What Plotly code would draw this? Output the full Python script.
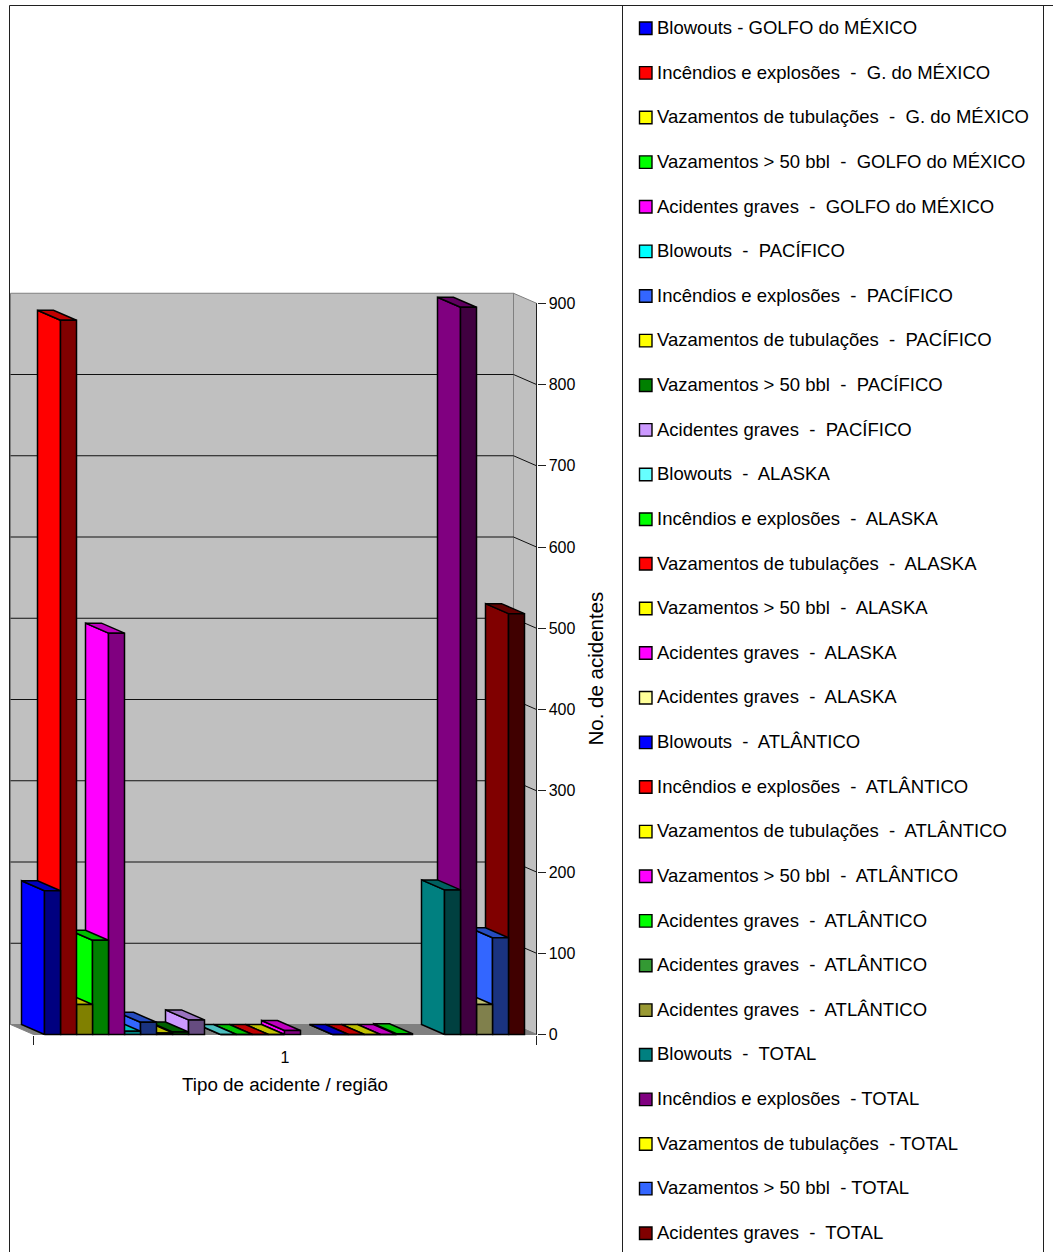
import plotly.graph_objects as go

# Series, in plotting order along the category axis
series_names = [
    "Blowouts - GOLFO do MÉXICO",
    "Incêndios e explosões  -  G. do MÉXICO",
    "Vazamentos de tubulações  -  G. do MÉXICO",
    "Vazamentos > 50 bbl  -  GOLFO do MÉXICO",
    "Acidentes graves  -  GOLFO do MÉXICO",
    "Blowouts  -  PACÍFICO",
    "Incêndios e explosões  -  PACÍFICO",
    "Vazamentos de tubulações  -  PACÍFICO",
    "Vazamentos > 50 bbl  -  PACÍFICO",
    "Acidentes graves  -  PACÍFICO",
    "Blowouts  -  ALASKA",
    "Incêndios e explosões  -  ALASKA",
    "Vazamentos de tubulações  -  ALASKA",
    "Vazamentos > 50 bbl  -  ALASKA",
    "Acidentes graves  -  ALASKA",
    "Acidentes graves  -  ALASKA",
    "Blowouts  -  ATLÂNTICO",
    "Incêndios e explosões  -  ATLÂNTICO",
    "Vazamentos de tubulações  -  ATLÂNTICO",
    "Vazamentos > 50 bbl  -  ATLÂNTICO",
    "Acidentes graves  -  ATLÂNTICO",
    "Acidentes graves  -  ATLÂNTICO",
    "Acidentes graves  -  ATLÂNTICO",
    "Blowouts  -  TOTAL",
    "Incêndios e explosões  - TOTAL",
    "Vazamentos de tubulações  - TOTAL",
    "Vazamentos > 50 bbl  - TOTAL",
    "Acidentes graves  -  TOTAL",
]
series_values = [
    177, 879, 37, 116, 494,
    4, 15, 2, 3, 18,
    0, 0, 0, 0, 5, None,
    0, 0, 0, 0, 1, None, None,
    178, 895, 37, 119, 518,
]
# Position of each series along the axis; slots 10 and 17 hold empty series
series_slots = [
    0, 1, 2, 3, 4,
    5, 6, 7, 8, 9,
    11, 12, 13, 14, 15, 16,
    18, 19, 20, 21, 22, 23, 24,
    25, 26, 27, 28, 29,
]
series_colors = [
    "#0000FF", "#FF0000", "#FFFF00", "#00FF00", "#FF00FF",
    "#00FFFF", "#3366FF", "#FFFF00", "#008000", "#CC99FF",
    "#66FFFF", "#00FF00", "#FF0000", "#FFFF00", "#FF00FF", "#FFFF99",
    "#0000FF", "#FF0000", "#FFFF00", "#FF00FF", "#00FF00", "#339933", "#999933",
    "#008080", "#800080", "#FFFF99", "#3366FF", "#800000",
]
key_colors = list(series_colors)
key_colors[25] = "#FFFF00"

y_ticks = [0, 100, 200, 300, 400, 500, 600, 700, 800, 900]
x_category = ["1"]

# Scale of the front plane: pixels per slot, pixels per accident, and where the origin falls
PX_PER_SLOT = 16
PX_PER_UNIT = 0.8125
ORIGIN_X, ORIGIN_Y = 44.5, 1034.5

# Oblique projection: how far the back of the box sits from the front plane, in axis units
DEPTH_X = -23 / PX_PER_SLOT
DEPTH_Y = 10 / PX_PER_UNIT
X_MIN, X_MAX = -0.6875, 30.75
Y_MAX = 900

# The plot rectangle is a little larger than the box so that nothing gets clipped
PLOT_L, PLOT_R, PLOT_T, PLOT_B = 8, 540, 288, 1038
FULL_X = [(PLOT_L - ORIGIN_X) / PX_PER_SLOT, (PLOT_R - ORIGIN_X) / PX_PER_SLOT]
FULL_Y = [(ORIGIN_Y - PLOT_B) / PX_PER_UNIT, (ORIGIN_Y - PLOT_T) / PX_PER_UNIT]


def paper_x(px):
    return (px - PLOT_L) / (PLOT_R - PLOT_L)


def paper_y(py):
    return (PLOT_B - py) / (PLOT_B - PLOT_T)


def shade(color, factor):
    r, g, b = (int(color[i:i + 2], 16) for i in (1, 3, 5))
    return f"rgb({round(r * factor)},{round(g * factor)},{round(b * factor)})"


def face(xs, ys, fill, line="#000000", name=None, width=1.5):
    return go.Scatter(
        x=xs, y=ys, mode="lines", fill="toself", fillcolor=fill,
        line=dict(color=line, width=width), showlegend=False,
        name=name, hoverinfo="name" if name else "skip",
    )


fig = go.Figure()

# Chart box: back wall, side wall and floor
WALL = "#C0C0C0"
EDGE = "#808080"
bx0, bx1 = X_MIN + DEPTH_X, X_MAX + DEPTH_X
fig.add_trace(face([bx0, bx1, bx1, bx0, bx0],
                   [DEPTH_Y, DEPTH_Y, Y_MAX + DEPTH_Y, Y_MAX + DEPTH_Y, DEPTH_Y], WALL, EDGE, width=1))
fig.add_trace(face([X_MAX, X_MAX, bx1, bx1, X_MAX],
                   [0, Y_MAX, Y_MAX + DEPTH_Y, DEPTH_Y, 0], WALL, EDGE, width=1))
fig.add_trace(face([X_MIN, X_MAX, bx1, bx0, X_MIN],
                   [0, 0, DEPTH_Y, DEPTH_Y, 0], EDGE, EDGE, width=1))

# Gridlines run along the back wall and fold down the side wall to the axis
for v in y_ticks[1:-1]:
    fig.add_trace(go.Scatter(
        x=[bx0, bx1, X_MAX], y=[v + DEPTH_Y, v + DEPTH_Y, v], mode="lines",
        line=dict(color="#101010", width=1), showlegend=False, hoverinfo="skip",
    ))

# Value axis line, limited to the span of the scale
fig.add_trace(go.Scatter(
    x=[X_MAX, X_MAX], y=[y_ticks[0], y_ticks[-1]], mode="lines",
    line=dict(color="#202020", width=1), showlegend=False, hoverinfo="skip",
))

# Boxes are painted from right to left so that each one hides the side of its neighbour
for name, value, slot, color in reversed(list(zip(series_names, series_values,
                                                  series_slots, series_colors))):
    if value is None:
        continue
    x0, x1 = slot, slot + 1
    top = value + DEPTH_Y
    fig.add_trace(face([x0, x0, x0 + DEPTH_X, x0 + DEPTH_X, x0],
                       [0, value, top, DEPTH_Y, 0], color, name=name))
    fig.add_trace(face([x0, x1, x1 + DEPTH_X, x0 + DEPTH_X, x0],
                       [value, value, top, top, value], shade(color, 0.75), name=name))
    fig.add_trace(face([x0, x1, x1, x0, x0],
                       [0, 0, value, value, 0], shade(color, 0.5), name=name))

FONT_FAMILY = "Liberation Sans, Arial, sans-serif"

# Legend column
LEGEND_FONT = dict(family=FONT_FAMILY, size=18.5, color="#000000")
shapes = []
annotations = []
for i, (name, color) in enumerate(zip(series_names, key_colors)):
    cy = 28 + i * 44.63
    shapes.append(dict(
        type="rect", xref="paper", yref="paper",
        x0=paper_x(639.5), x1=paper_x(652), y0=paper_y(cy + 6.5), y1=paper_y(cy - 6),
        fillcolor=color, line=dict(color="#000000", width=1.4),
    ))
    annotations.append(dict(
        xref="paper", yref="paper", x=paper_x(655), y=paper_y(cy - 0.5),
        text=name, showarrow=False, xanchor="left", yanchor="middle",
        font=LEGEND_FONT,
    ))

# Axis titles
TITLE_FONT = dict(family=FONT_FAMILY, size=18.8, color="#000000")
annotations.append(dict(
    xref="paper", yref="paper", x=paper_x(285), y=paper_y(1084),
    text="Tipo de acidente / região", showarrow=False,
    xanchor="center", yanchor="middle", font=TITLE_FONT,
))
annotations.append(dict(
    xref="paper", yref="paper", x=paper_x(595), y=paper_y(668.5),
    text="No. de acidentes", showarrow=False, textangle=-90,
    xanchor="center", yanchor="middle", font=dict(family=FONT_FAMILY, size=20.5, color="#000000"),
))

# Outer frame and the rule separating the legend
FRAME = "#202020"
for x0, y0, x1, y1 in [(9.5, 5.5, 9.5, 1252), (9.5, 5.5, 1053, 5.5),
                       (622.5, 5.5, 622.5, 1252), (1043.5, 5.5, 1043.5, 1252)]:
    shapes.append(dict(
        type="line", xref="paper", yref="paper",
        x0=paper_x(x0), x1=paper_x(x1), y0=paper_y(y0), y1=paper_y(y1),
        line=dict(color=FRAME, width=1),
    ))

AXIS_FONT = dict(family=FONT_FAMILY, size=16, color="#000000")

fig.update_layout(
    width=1053, height=1252, autosize=False,
    margin=dict(l=PLOT_L, r=1053 - PLOT_R, t=PLOT_T, b=1252 - PLOT_B, pad=0),
    paper_bgcolor="rgba(0,0,0,0)", plot_bgcolor="rgba(0,0,0,0)",
    showlegend=False, shapes=shapes, annotations=annotations,
    xaxis=dict(
        range=FULL_X, anchor="free", position=paper_y(ORIGIN_Y),
        showgrid=False, zeroline=False, showline=False, tickmode="array",
        tickvals=[(X_MIN + X_MAX) / 2], ticktext=x_category, ticks="",
        ticklabelstandoff=11, tickfont=AXIS_FONT,
        minor=dict(tickmode="array", tickvals=[X_MIN, X_MAX], ticks="outside",
                   ticklen=9, tickcolor="#202020", tickwidth=1),
    ),
    yaxis=dict(
        range=FULL_Y, side="right", anchor="free", position=paper_x(ORIGIN_X + X_MAX * PX_PER_SLOT),
        showgrid=False, zeroline=False, showline=False,
        tickmode="array", tickvals=y_ticks, ticks="outside", ticklen=8,
        tickcolor="#202020", tickwidth=1, tickfont=AXIS_FONT,
    ),
)

fig.write_html("out.html")
